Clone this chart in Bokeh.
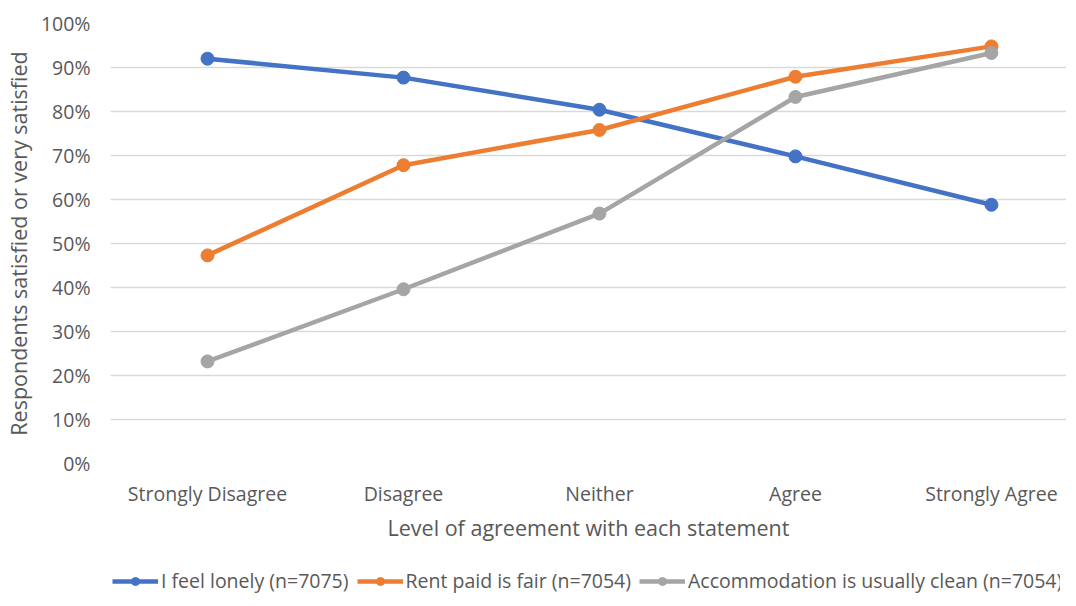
from bokeh.plotting import figure
from bokeh.layouts import column
from bokeh.models import Range1d, FixedTicker, PrintfTickFormatter, Legend
from bokeh.embed import file_html
from bokeh.resources import INLINE

categories = ["Strongly Disagree", "Disagree", "Neither", "Agree", "Strongly Agree"]
lonely = [92.0, 87.7, 80.4, 69.8, 58.8]
rent = [47.3, 67.8, 75.8, 87.9, 94.8]
clean = [23.2, 39.6, 56.8, 83.3, 93.3]
series_names = ["I feel lonely (n=7075)", "Rent paid is fair (n=7054)",
                "Accommodation is usually clean (n=7054)"]
colors = ["#4472C4", "#ED7D31", "#A5A5A5"]
y_ticks = [0, 10, 20, 30, 40, 50, 60, 70, 80, 90, 100]

FONT = "Open Sans"
TXT = "#595959"

xs = list(range(len(categories)))

p = figure(frame_width=956, frame_height=440, output_backend="svg",
           toolbar_location=None,
           x_range=Range1d(-0.495, 4.383), y_range=Range1d(0, 100),
           min_border_left=104, min_border_right=0, min_border_top=23,
           min_border_bottom=77)
p.outline_line_color = None
p.background_fill_color = "white"
p.border_fill_color = "white"

p.xgrid.visible = False
p.ygrid.grid_line_color = "#D9D9D9"
p.ygrid.grid_line_width = 1.3
p.yaxis.ticker = FixedTicker(ticks=y_ticks)
p.yaxis.formatter = PrintfTickFormatter(format="%d%%")
p.xaxis.ticker = FixedTicker(ticks=xs)
p.xaxis.major_label_overrides = {i: c for i, c in enumerate(categories)}

for ax in (p.xaxis[0], p.yaxis[0]):
    ax.axis_line_color = None
    ax.major_tick_line_color = None
    ax.minor_tick_line_color = None
    ax.major_tick_out = 0
    ax.major_tick_in = 0
    ax.minor_tick_out = 0
    ax.minor_tick_in = 0
    ax.major_label_text_font = FONT
    ax.major_label_text_font_size = "19.5px"
    ax.major_label_text_color = TXT
    ax.axis_label_text_font = FONT
    ax.axis_label_text_font_size = "21.5px"
    ax.axis_label_text_color = TXT
    ax.axis_label_text_font_style = "normal"

p.xaxis.axis_label = "Level of agreement with each statement"
p.yaxis.axis_label = "Respondents satisfied or very satisfied"
p.xaxis.major_label_standoff = 16
p.xaxis.axis_label_standoff = 3
p.yaxis.major_label_standoff = 20
p.yaxis.axis_label_standoff = 5

for vals, col in zip([lonely, rent, clean], colors):
    p.line(xs, vals, line_color=col, line_width=4.5)
    p.scatter(xs, vals, size=13, fill_color=col, line_color=col)

# legend strip below the chart (its own ranges keep the series out of view)
lg = figure(width=1060, height=50, output_backend="svg", toolbar_location=None,
            x_range=Range1d(100, 101), y_range=Range1d(100, 101),
            min_border_left=0, min_border_right=0, min_border_top=0,
            min_border_bottom=0, x_axis_type=None, y_axis_type=None)
lg.outline_line_color = None
lg.xgrid.visible = False
lg.ygrid.visible = False
lg.border_fill_color = "white"

items = []
for name, vals, col in zip(series_names, [lonely, rent, clean], colors):
    r1 = lg.line(xs, vals, line_color=col, line_width=4.5)
    r2 = lg.scatter(xs, vals, size=13, fill_color=col, line_color=col)
    items.append((name, [r1, r2]))

legend = Legend(items=items, orientation="horizontal", location=(2, 0),
                label_text_font=FONT, label_text_font_size="19.5px",
                label_text_color=TXT, glyph_width=46, glyph_height=20,
                label_standoff=3, spacing=8, padding=0, margin=0,
                border_line_color=None, background_fill_alpha=0)
lg.add_layout(legend, "center")

layout = column(p, lg, spacing=0)
open("out.html", "w").write(file_html(layout, INLINE))
